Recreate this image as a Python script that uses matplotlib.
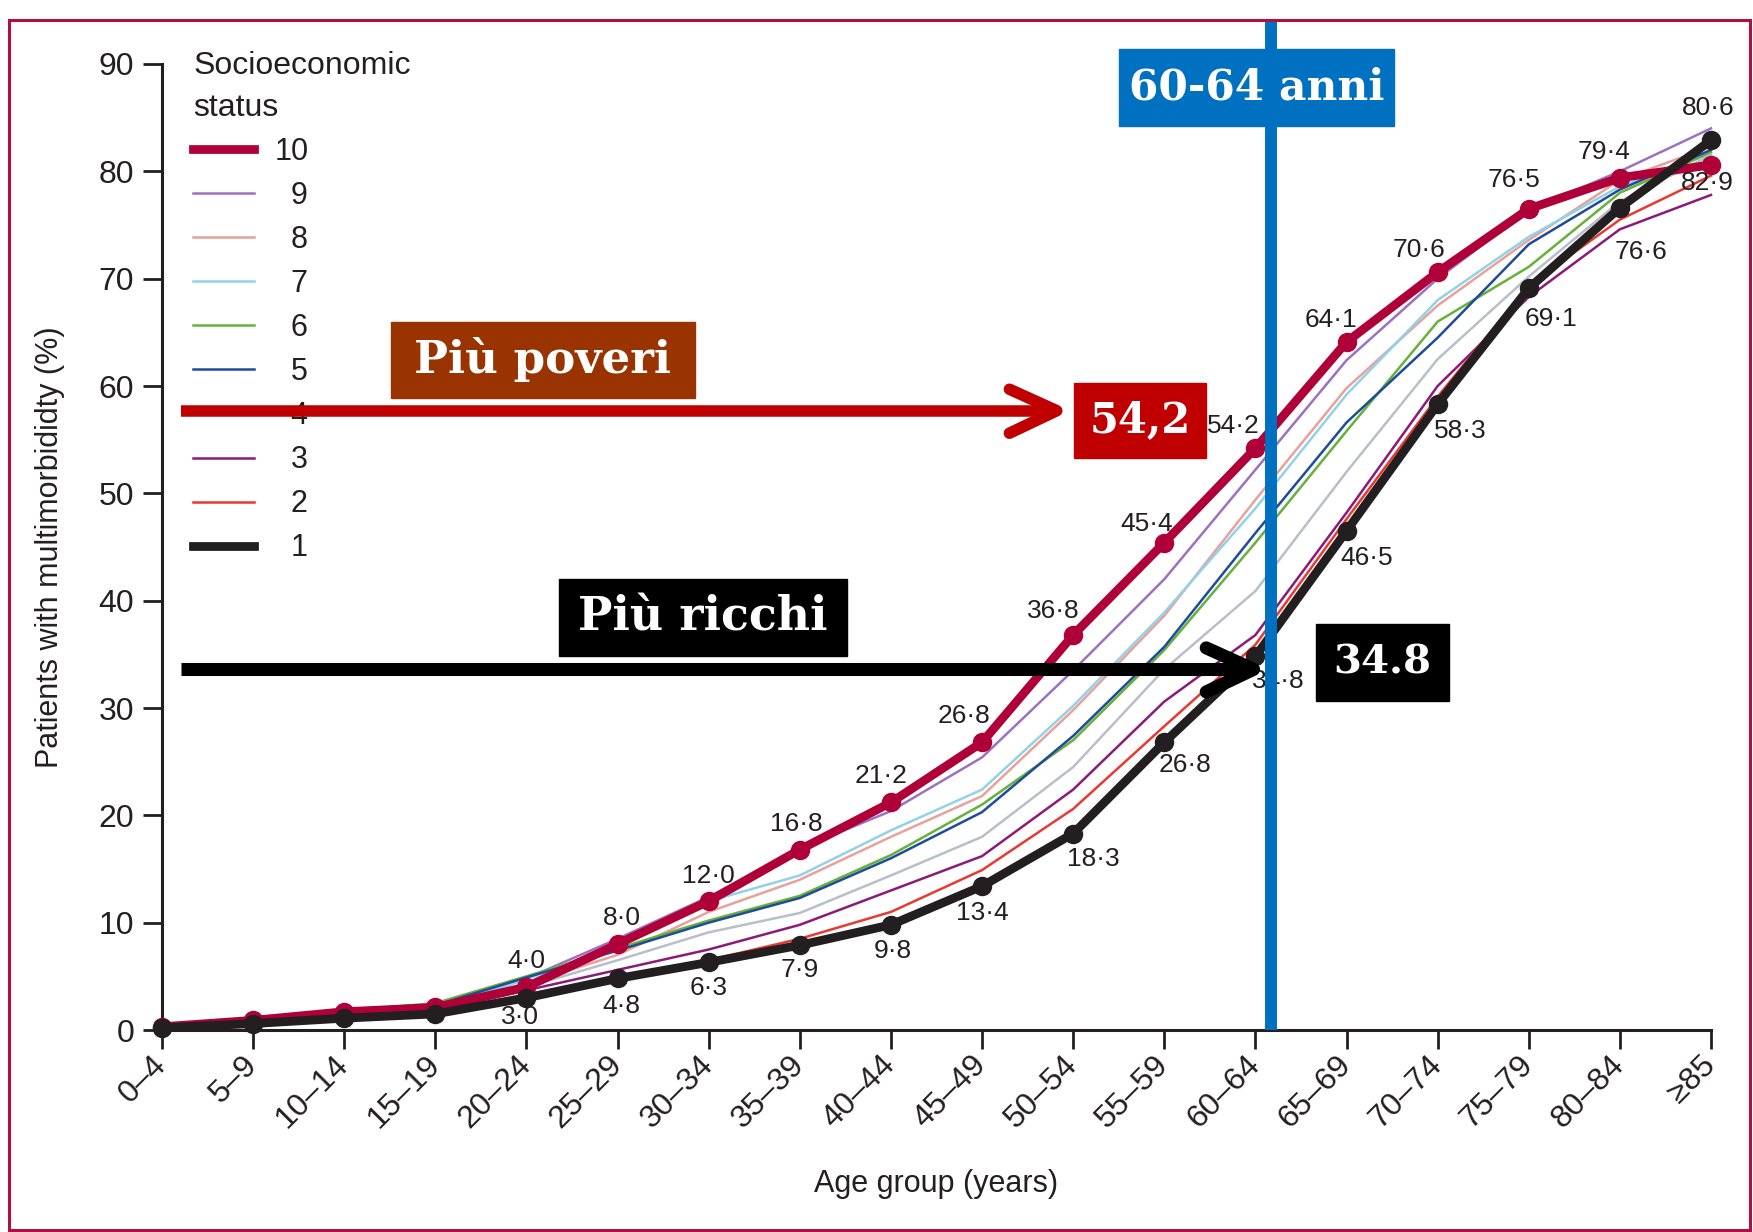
import matplotlib
matplotlib.use("Agg")
import matplotlib.pyplot as plt
from matplotlib.patches import Rectangle

plt.rcParams["font.family"] = ["Liberation Sans", "DejaVu Sans"]

# Age groups and percentage of patients with multimorbidity by socioeconomic decile
ages = ["0–4", "5–9", "10–14", "15–19", "20–24", "25–29", "30–34", "35–39",
        "40–44", "45–49", "50–54", "55–59", "60–64", "65–69", "70–74",
        "75–79", "80–84", "≥85"]

s10 = [0.3, 0.9, 1.7, 2.1, 4.0, 8.0, 12.0, 16.8, 21.2, 26.8, 36.8, 45.4, 54.2, 64.1, 70.6, 76.5, 79.4, 80.6]
s9 = [0.4, 1.0, 1.8, 2.2, 4.8, 8.5, 12.4, 16.9, 20.4, 25.4, 33.5, 42.0, 52.2, 62.4, 70.0, 76.4, 80.0, 84.0]
s8 = [0.3, 0.9, 1.6, 2.0, 4.3, 7.0, 11.0, 14.0, 18.0, 21.8, 29.8, 38.6, 49.4, 59.8, 67.5, 73.6, 79.2, 82.3]
s7 = [0.3, 0.9, 1.7, 2.1, 4.7, 8.0, 12.0, 14.4, 18.6, 22.4, 30.2, 38.9, 48.6, 59.2, 68.0, 73.9, 78.6, 81.6]
s6 = [0.4, 1.0, 1.8, 2.5, 5.0, 7.6, 10.2, 12.5, 16.3, 21.0, 27.0, 35.4, 45.4, 55.8, 66.0, 71.1, 78.0, 81.8]
s5 = [0.4, 1.0, 1.7, 2.3, 4.9, 7.4, 10.0, 12.3, 16.0, 20.3, 27.4, 35.7, 46.3, 56.6, 64.5, 73.2, 78.3, 82.0]
s4 = [0.3, 0.8, 1.4, 1.9, 4.0, 6.5, 9.1, 10.9, 14.4, 18.0, 24.5, 33.6, 40.9, 52.0, 62.5, 70.2, 77.2, 81.5]
s3 = [0.3, 0.7, 1.3, 1.8, 3.7, 5.6, 7.5, 9.8, 13.0, 16.2, 22.4, 30.6, 36.8, 48.2, 60.0, 68.3, 74.6, 77.8]
s2 = [0.2, 0.6, 1.1, 1.5, 3.3, 4.9, 6.5, 8.5, 11.0, 14.9, 20.6, 28.3, 35.9, 47.6, 59.0, 69.4, 75.5, 79.6]
s1 = [0.2, 0.6, 1.1, 1.5, 3.0, 4.8, 6.3, 7.9, 9.8, 13.4, 18.3, 26.8, 34.8, 46.5, 58.3, 69.1, 76.6, 82.9]

deciles = ["10", "9", "8", "7", "6", "5", "4", "3", "2", "1"]
series = [s10, s9, s8, s7, s6, s5, s4, s3, s2, s1]
colors = ["#B0003A", "#9C72C0", "#E8A19B", "#92D2E6", "#68B03A",
          "#1F4C9A", "#B8BFC9", "#8B1A78", "#E83A30", "#231F20"]

highlight_group = "60–64"
poor_value = s10[ages.index(highlight_group)]
rich_value = s1[ages.index(highlight_group)]

W, H = 1753, 1232
fig = plt.figure(figsize=(W / 100, H / 100), dpi=100)


def fx(px):
    return px / W


def fy(py):
    return 1 - py / H


ax = fig.add_axes([fx(162), fy(1030), (1711 - 162) / W, (1030 - 64) / H])
x = list(range(len(ages)))
ink = "#231F20"

handles = {}
for name, vals, col in zip(deciles, series, colors):
    if name in ("10", "1"):
        continue
    (ln,) = ax.plot(x, vals, color=col, lw=1.8, zorder=2, clip_on=False)
    handles[name] = ln

(l10,) = ax.plot(x, s10, color=colors[0], lw=6.3, marker="o", ms=13,
                 zorder=3, clip_on=False)
(l1,) = ax.plot(x, s1, color=colors[-1], lw=6.3, marker="o", ms=13,
                zorder=4, clip_on=False)
handles["10"] = l10
handles["1"] = l1

# value labels on the two extreme deciles
fmt = lambda v: f"{v:.1f}".replace(".", "·")
off10 = [None, None, None, None, (0, 26), (4, 26), (0, 25), (-4, 26), (-10, 26),
         (-18, 26), (-20, 24), (-18, 19), (-22, 22), (-16, 22), (-19, 22),
         (-15, 29), (-16, 26), (-3, 57)]
off1 = [None, None, None, None, (-6, -19), (4, -28), (0, -26), (0, -25), (2, -26),
        (0, -27), (20, -25), (21, -23), (23, -25), (20, -27), (23, -27),
        (22, -31), (21, -44), (-4, -43)]
lab_font = dict(family=["Liberation Sans Narrow", "Liberation Sans"], size=19, color=ink)
for i in x:
    if off10[i] is not None:
        ax.annotate(fmt(s10[i]), (i, s10[i]), xytext=off10[i], textcoords="offset pixels",
                    ha="center", va="center", zorder=6, **lab_font)
    if off1[i] is not None:
        ax.annotate(fmt(s1[i]), (i, s1[i]), xytext=off1[i], textcoords="offset pixels",
                    ha="center", va="center", zorder=6, **lab_font)

ax.set_xlim(0, len(ages) - 1)
ax.set_ylim(0, 90)
ax.set_xticks(x)
ax.set_xticklabels(ages, rotation=45, ha="right", va="center", rotation_mode="anchor")
ax.set_yticks(range(0, 91, 10))
ax.tick_params(axis="both", direction="out", length=14, width=2, color=ink,
               labelsize=23, labelcolor=ink)
ax.tick_params(axis="x", pad=8)
ax.tick_params(axis="y", pad=6)
for side in ("top", "right"):
    ax.spines[side].set_visible(False)
for side in ("left", "bottom"):
    ax.spines[side].set_linewidth(2.2)
    ax.spines[side].set_color(ink)

ax.set_xlabel("Age group (years)", fontsize=22, color=ink, labelpad=25)
ax.set_ylabel("Patients with multimorbididty (%)", fontsize=22, color=ink, labelpad=24)

leg_labels = [d if len(d) == 2 else "  " + d for d in deciles]
leg = ax.legend([handles[d] for d in deciles], leg_labels,
                title="Socioeconomic\nstatus", title_fontsize=23, fontsize=22,
                alignment="left", loc="upper left", frameon=False,
                bbox_to_anchor=(fx(178), fy(36)), bbox_transform=fig.transFigure,
                borderpad=0, handlelength=2.0, handletextpad=0.65, labelspacing=0.46,
                markerscale=0)
for t in leg.get_texts():
    t.set_color(ink)
leg.get_title().set_color(ink)
leg.get_title().set_linespacing(1.5)
leg.set_zorder(5)

# vertical marker for the 60-64 age group
xg = ages.index(highlight_group) + 0.17
ax.axvline(xg, ymin=0, ymax=94.1 / 90, color="#0070C0", lw=8.6, zorder=7,
           clip_on=False, solid_capstyle="butt")

# arrows pointing at the 60-64 values
def chevron_arrow(y, x0, x1, color, lw):
    ax.plot([x0, x1 - 0.05], [y, y], color=color, lw=lw, solid_capstyle="butt",
            zorder=6, clip_on=False)
    ax.plot([x1 - 0.52, x1, x1 - 0.52], [y + 2.0, y, y - 2.1], color=color, lw=lw,
            solid_capstyle="round", solid_joinstyle="round", zorder=6, clip_on=False)


chevron_arrow(57.7, 0.21, 9.82, "#C00000", 8.3)
chevron_arrow(33.6, 0.21, 11.98, "#000000", 9.4)

# callout boxes
box_font = dict(family="DejaVu Serif", weight="bold", color="white")
boxes = [
    (highlight_group.replace("–", "-") + " anni", 1119, 1394, 49, 126, "#0070C0", 30.5),
    ("Più poveri", 391, 695, 322, 398, "#993300", 32.5),
    (f"{poor_value:.1f}".replace(".", ","), 1074, 1206, 383, 458, "#C00000", 30),
    ("Più ricchi", 559, 847, 579, 656, "#000000", 33),
    (f"{rich_value:.1f}", 1316, 1449, 624, 701, "#000000", 29),
]
for text, x0, x1, y0, y1, col, size in boxes:
    fig.add_artist(Rectangle((fx(x0), fy(y1)), (x1 - x0) / W, (y1 - y0) / H,
                             transform=fig.transFigure, color=col, zorder=8))
    fig.text((fx(x0) + fx(x1)) / 2, (fy(y0) + fy(y1)) / 2, text, ha="center",
             va="center", zorder=9, size=size, **box_font)

# frame around the figure
fig.add_artist(Rectangle((fx(9), fy(1230)), (1750 - 9) / W, (1230 - 20) / H,
                         transform=fig.transFigure, fill=False, ec="#B0103F", lw=2.2,
                         zorder=10))

fig.savefig("out.png", dpi=100, facecolor="white")
